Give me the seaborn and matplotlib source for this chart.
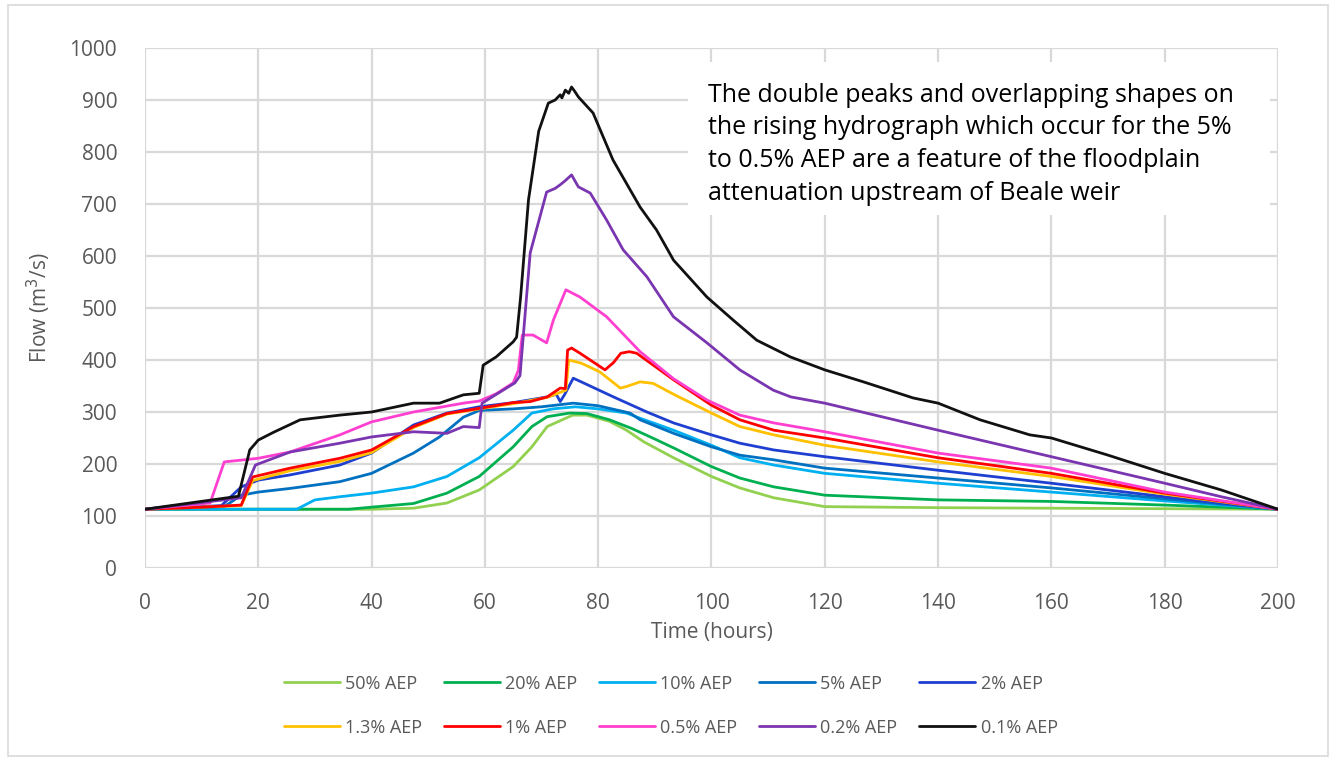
import matplotlib
matplotlib.use("Agg")
import matplotlib.pyplot as plt
import seaborn as sns
import pandas as pd
from matplotlib.patches import Rectangle

# ---------------- data ----------------
labels = ["50% AEP", "20% AEP", "10% AEP", "5% AEP", "2% AEP",
          "1.3% AEP", "1% AEP", "0.5% AEP", "0.2% AEP", "0.1% AEP"]
colors = ["#92d050", "#00b050", "#00b0f0", "#0070c0", "#1f3fd0",
          "#ffc000", "#ff0000", "#ff3fcf", "#7a35b0", "#111111"]

t_50 = [0, 20, 40, 47.4, 53.3, 59, 65, 68.3, 71, 75.5, 78, 80, 82, 85, 88, 93.3, 100, 105, 111, 120, 140, 160, 180, 200]
q_50 = [113, 113, 113, 115, 125, 150, 195, 233, 272, 294, 294, 288, 282, 265, 243, 212, 176, 154, 135, 118, 116, 115, 114, 113]

t_20 = [0, 36, 40, 47.4, 53.3, 59, 65, 68.3, 71, 75, 78, 82, 86, 90, 93.3, 100, 105, 111, 120, 140, 160, 180, 200]
q_20 = [113, 113, 117, 124, 144, 176, 233, 272, 291, 298, 297, 285, 268, 248, 231, 195, 173, 156, 140, 131, 128, 121, 113]

t_10 = [0, 26.8, 30, 34.4, 40, 47.4, 53.3, 59, 65, 68.3, 72, 76, 80, 85, 87.4, 93.3, 100, 105, 111, 120, 140, 160, 180, 200]
q_10 = [113, 113, 131, 137, 144, 156, 176, 212, 265, 298, 306, 310, 306, 298, 288, 265, 236, 212, 198, 182, 163, 146, 129, 113]

t_5 = [0, 14, 17, 20, 25.6, 34.4, 40, 47.4, 52, 56.2, 59, 65, 70, 75.6, 80, 85.6, 87.4, 93.3, 100, 105, 111, 120, 140, 160, 180, 200]
q_5 = [113, 118, 140, 146, 153, 166, 182, 221, 252, 290, 303, 306, 310, 317, 312, 298, 285, 259, 233, 217, 208, 192, 173, 154, 133, 113]

t_2 = [0, 13.5, 17, 20, 25.6, 34.4, 40, 47.4, 53.3, 59, 65, 71, 72.6, 73.3, 74.1, 75.6, 77, 82.7, 88.6, 93.3, 100, 105, 111, 120, 140, 160, 180, 200]
q_2 = [113, 120, 156, 169, 179, 198, 221, 275, 298, 310, 318, 329, 334, 320, 334, 365, 358, 329, 300, 279, 256, 240, 227, 214, 188, 163, 137, 113]

t_13 = [0, 17, 19, 25.6, 34.4, 40, 47.4, 53.3, 59, 65, 71, 74.3, 74.8, 77, 80.3, 83.9, 85, 87.4, 89.7, 93.5, 100, 105, 111, 120, 140, 160, 180, 200]
q_13 = [113, 120, 168, 187, 205, 222, 270, 296, 306, 316, 328, 342, 400, 394, 377, 346, 349, 358, 355, 333, 298, 272, 256, 236, 204, 176, 142, 113]

t_1 = [0, 10, 17, 19, 25.6, 34.4, 40, 47.4, 53.3, 59, 65, 68, 71, 73.3, 74.2, 74.6, 75.3, 76.8, 81.2, 82.7, 84, 85.5, 86.8, 93.3, 100, 105, 111, 120, 140, 160, 180, 200]
q_1 = [113, 117, 121, 175, 192, 211, 227, 272, 297, 307, 318, 320, 329, 346, 345, 419, 423, 413, 381, 395, 413, 416, 413, 362, 313, 285, 265, 250, 212, 182, 144, 113]

t_05 = [0, 11.5, 14, 20, 25.6, 34.4, 40, 47.4, 56.2, 59, 62, 65, 65.9, 66.6, 68.5, 70.9, 72.1, 74.3, 76.8, 81.5, 87.4, 93.3, 99.2, 105, 111, 120, 140, 160, 180, 200]
q_05 = [113, 125, 204, 211, 223, 256, 281, 300, 317, 321, 335, 356, 380, 448, 448, 433, 477, 535, 521, 483, 416, 364, 323, 294, 279, 262, 221, 192, 146, 113]

t_02 = [0, 17, 19.5, 25.6, 34.4, 40, 47.4, 53.3, 56.2, 59, 59.5, 65.3, 66.2, 68, 70.9, 72.4, 73.3, 74.2, 75.3, 76.5, 78.6, 81.5, 84.4, 88.6, 93.3, 99.2, 105, 110.9, 114, 120, 140, 160, 180, 190, 200]
q_02 = [113, 135, 198, 223, 240, 252, 262, 259, 272, 270, 317, 356, 370, 606, 723, 730, 737, 745, 756, 733, 721, 669, 612, 560, 483, 433, 381, 342, 329, 317, 265, 214, 163, 137, 113]

t_01 = [0, 16.5, 18.5, 20, 22.7, 27.4, 34.4, 40, 47.4, 52, 56.2, 59, 59.7, 62, 65, 65.6, 66.3, 67.7, 69.5, 71.2, 72.4, 73.3, 73.6, 74.2, 74.8, 75.3, 75.9, 76.5, 79.1, 82.6, 87.4, 90.3, 93.3, 99.2, 103.8, 108, 113.9, 120, 126.8, 135.6, 140, 147.4, 156.2, 160, 170, 180, 190, 200]
q_01 = [113, 138, 227, 246, 261, 285, 294, 300, 317, 317, 333, 336, 390, 406, 435, 444, 520, 708, 840, 894, 900, 910, 904, 919, 913, 925, 916, 906, 875, 785, 694, 650, 592, 521, 477, 438, 406, 381, 358, 327, 317, 285, 256, 250, 217, 182, 150, 113]

series_t = [t_50, t_20, t_10, t_5, t_2, t_13, t_1, t_05, t_02, t_01]
series_q = [q_50, q_20, q_10, q_5, q_2, q_13, q_1, q_05, q_02, q_01]

x_ticks = list(range(0, 201, 20))
y_ticks = list(range(0, 1001, 100))

note = ("The double peaks and overlapping shapes on\n"
        "the rising hydrograph which occur for the 5%\n"
        "to 0.5% AEP are a feature of the floodplain\n"
        "attenuation upstream of Beale weir")

# ---------------- plotting ----------------
sns.set_theme(style="white")
plt.rcParams["font.family"] = ["Open Sans", "DejaVu Sans"]

fig = plt.figure(figsize=(13.36, 7.62), dpi=100)
ax = fig.add_axes([0.1085, 0.2546, 0.8481, 0.6824])

grey_txt = "#595959"
grid_c = "#d9d9d9"

handles = {}
for lab, col, tt, qq in zip(labels, colors, series_t, series_q):
    df = pd.DataFrame({"Time": tt, "Flow": qq})
    sns.lineplot(data=df, x="Time", y="Flow", ax=ax, color=col, lw=2.0,
                 estimator=None, sort=False, label=lab, legend=False)
    handles[lab] = ax.lines[-1]

ax.set_xlim(0, 200)
ax.set_ylim(0, 1000)
ax.set_xticks(x_ticks)
ax.set_yticks(y_ticks)
ax.grid(True, color=grid_c, lw=1.6)
ax.set_axisbelow(True)
for s in ax.spines.values():
    s.set_visible(False)
ax.tick_params(axis="both", length=0, labelsize=15, colors=grey_txt)
ax.tick_params(axis="y", pad=20)
ax.tick_params(axis="x", pad=18)
ax.set_xlabel("Time (hours)", fontsize=15, color=grey_txt, labelpad=6)
ax.set_ylabel("Flow (m$^3$/s)", fontsize=15, color=grey_txt, labelpad=12)

# white box behind the note (hides gridlines like the reference)
ax.add_patch(Rectangle((0.479, 0.679), 0.514, 0.294, transform=ax.transAxes,
                       facecolor="white", edgecolor="none", zorder=1.5))
ax.text(0.497, 0.933, note, transform=ax.transAxes, ha="left", va="top",
        fontsize=18, color="black", linespacing=1.40, zorder=5)

# legend: column-major order so rows read 50..2 and 1.3..0.1
order = [0, 5, 1, 6, 2, 7, 3, 8, 4, 9]
leg = fig.legend([handles[labels[i]] for i in order], [labels[i] for i in order],
                 ncol=5, loc="center", bbox_to_anchor=(0.502, 0.074), frameon=False,
                 fontsize=13, handlelength=3.1, handletextpad=0.3, columnspacing=1.2,
                 labelspacing=1.45)
for txt in leg.get_texts():
    txt.set_color(grey_txt)

# chart-area border
fig.patches.append(Rectangle((0.006, 0.008), 0.988, 0.985, transform=fig.transFigure,
                             fill=False, edgecolor=grid_c, lw=1.2))

fig.savefig("out.png", dpi=100)
